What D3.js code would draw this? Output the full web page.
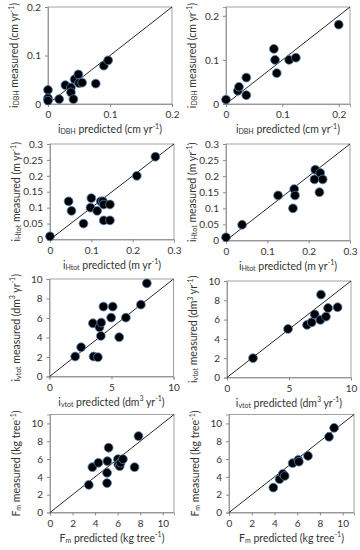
<!DOCTYPE html>
<html>
<head>
<meta charset="utf-8">
<script src="https://cdn.jsdelivr.net/npm/d3@7"></script>
<style>
  body { margin: 0; background: #fff; }
  svg text { font-family: Lato, "Open Sans", sans-serif; fill: #333; }
</style>
</head>
<body>
<div id="chart"></div>
<script>
// predicted / measured pairs, one pair of arrays per panel
const dbhPredA = [0, 0, 0, 0.018, 0.028, 0.037, 0.037, 0.041, 0.043, 0.049, 0.05, 0.055, 0.077, 0.09, 0.097];
const dbhMeasA = [0.029, 0.012, 0.007, 0.01, 0.039, 0.034, 0.024, 0.01, 0.051, 0.061, 0.043, 0.044, 0.042, 0.079, 0.09];
const dbhPredB = [0, 0.021, 0.023, 0.036, 0.036, 0.085, 0.087, 0.09, 0.112, 0.124, 0.2];
const dbhMeasB = [0.01, 0.03, 0.039, 0.06, 0.02, 0.125, 0.1, 0.07, 0.1, 0.105, 0.18];

const hPredA = [0, 0.045, 0.052, 0.081, 0.098, 0.1, 0.114, 0.123, 0.128, 0.13, 0.145, 0.13, 0.145, 0.21, 0.255];
const hMeasA = [0.01, 0.12, 0.09, 0.05, 0.1, 0.13, 0.09, 0.12, 0.12, 0.11, 0.11, 0.06, 0.06, 0.2, 0.26];
const hPredB = [0, 0.039, 0.126, 0.162, 0.165, 0.167, 0.214, 0.216, 0.226, 0.228, 0.234];
const hMeasB = [0.01, 0.049, 0.14, 0.1, 0.16, 0.14, 0.19, 0.22, 0.15, 0.21, 0.19];

const vPredA = [2.07, 2.55, 3.5, 3.55, 3.9, 4.03, 4.14, 4.17, 4.35, 4.97, 5.1, 5.62, 6.16, 7.37, 7.85];
const vMeasA = [2.05, 3.0, 5.46, 2.05, 1.98, 5.05, 4.16, 5.53, 7.17, 6.04, 7.17, 4.03, 6.04, 7.37, 9.56];
const vPredB = [2.1, 4.92, 6.45, 6.83, 7.07, 7.53, 7.58, 7.98, 8.15, 8.92];
const vMeasB = [2.0, 5.03, 5.45, 5.72, 6.55, 5.97, 8.59, 6.31, 7.2, 7.28];

const fPredA = [3.44, 3.76, 4.29, 5.06, 5.06, 5.09, 5.2, 6.03, 6.06, 6.18, 6.26, 6.47, 7.5, 7.85];
const fMeasA = [3.1, 5.09, 5.58, 4.46, 3.3, 5.77, 7.27, 5.99, 5.39, 5.2, 5.58, 5.99, 5.09, 8.58];
const fPredB = [3.9, 4.45, 4.74, 4.9, 5.6, 6.1, 6.15, 6.95, 8.8, 9.25];
const fMeasB = [2.8, 3.74, 4.34, 4.1, 5.55, 5.9, 5.7, 6.35, 8.5, 9.5];

const xTicksDBH = [0, 0.1, 0.2];
const yTicksDBH = [0, 0.1, 0.2];
const xTicksH = [0, 0.1, 0.2, 0.3];
const yTicksH = [0, 0.05, 0.1, 0.15, 0.2, 0.25, 0.3];
const xTicksV = [0, 5, 10];
const yTicksV = [0, 2, 4, 6, 8, 10];
const xTicksF = [0, 2, 4, 6, 8, 10];
const yTicksF = [0, 2, 4, 6, 8, 10];

// axis title pieces: [text, 'sub'|'sup'|'']
function titleParts(kind, word) {
  if (kind == "dbh") return [["i", ""], ["DBH", "sub"], [" " + word + " (cm yr", ""], ["-1", "sup"], [")", ""]];
  if (kind == "h") return [["i", ""], ["Htot", "sub"], [" " + word + " (m yr", ""], ["-1", "sup"], [")", ""]];
  if (kind == "v") return [["i", ""], ["vtot", "sub"], [" " + word + " (dm", ""], ["3", "sup"], [" yr", ""], ["-1", "sup"], [")", ""]];
  return [["F", ""], ["m", "sub"], [" " + word + " (kg tree", ""], ["-1", "sup"], [")", ""]];
}

const panels = [
  {px: dbhPredA, py: dbhMeasA, max: 0.2,  xt: xTicksDBH, yt: yTicksDBH, kind: "dbh", box: [48, 7, 172, 104]},
  {px: dbhPredB, py: dbhMeasB, max: 0.22, xt: xTicksDBH, yt: yTicksDBH, kind: "dbh", box: [226, 7, 350, 104]},
  {px: hPredA, py: hMeasA, max: 0.3, xt: xTicksH, yt: yTicksH, kind: "h", box: [50, 144, 174, 239.5]},
  {px: hPredB, py: hMeasB, max: 0.3, xt: xTicksH, yt: yTicksH, kind: "h", box: [226, 144, 350, 240.5]},
  {px: vPredA, py: vMeasA, max: 10, xt: xTicksV, yt: yTicksV, kind: "v", box: [49.5, 279, 173.5, 376.5]},
  {px: vPredB, py: vMeasB, max: 10, xt: xTicksV, yt: yTicksV, kind: "v", box: [227, 281, 351, 377.5]},
  {px: fPredA, py: fMeasA, max: 11, xt: xTicksF, yt: yTicksF, kind: "f", box: [50, 414.5, 174, 512.5]},
  {px: fPredB, py: fMeasB, max: 11, xt: xTicksF, yt: yTicksF, kind: "f", box: [229, 414.5, 354, 512.5]}
];

const svg = d3.select("#chart").append("svg").attr("width", 360).attr("height", 550);

function addTitle(g, parts, x, y, rotate) {
  const t = g.append("text")
    .attr("x", x).attr("y", y)
    .attr("text-anchor", "middle")
    .style("font-size", "10.5px");
  if (rotate) t.attr("transform", "rotate(-90," + x + "," + y + ")");
  let shift = 0;
  parts.forEach(function(p) {
    const ts = t.append("tspan").text(p[0]);
    const target = p[1] == "sub" ? 1.2 : p[1] == "sup" ? -4.5 : 0;
    if (p[1] != "") ts.style("font-size", "7px");
    ts.attr("dy", target - shift);
    shift = target;
  });
}

panels.forEach(function(p) {
  const [x0, y0, x1, y1] = p.box;
  const x = d3.scaleLinear().domain([0, p.max]).range([x0, x1]);
  const y = d3.scaleLinear().domain([0, p.max]).range([y1, y0]);
  const g = svg.append("g");

  // plot frame
  g.append("rect")
    .attr("x", x0).attr("y", y0).attr("width", x1 - x0).attr("height", y1 - y0)
    .attr("fill", "none").attr("stroke", "#8a8a8a").attr("stroke-width", 0.8);

  const xAxis = g.append("g").attr("transform", "translate(0," + y1 + ")")
    .call(d3.axisBottom(x).tickValues(p.xt).tickSize(3).tickPadding(4).tickFormat(d3.format("")));
  const yAxis = g.append("g").attr("transform", "translate(" + x0 + ",0)")
    .call(d3.axisLeft(y).tickValues(p.yt).tickSize(3).tickPadding(4).tickFormat(d3.format("")));
  [xAxis, yAxis].forEach(function(a) {
    a.select(".domain").attr("stroke", "#8a8a8a").attr("stroke-width", 0.8);
    a.selectAll(".tick line").attr("stroke", "#8a8a8a");
    a.selectAll(".tick text").style("font-size", "10px").attr("fill", "#333")
      .style("font-family", "Lato, 'Open Sans', sans-serif");
  });

  // 1:1 line
  g.append("line")
    .attr("x1", x(0)).attr("y1", y(0)).attr("x2", x(p.max)).attr("y2", y(p.max))
    .attr("stroke", "#111").attr("stroke-width", 0.9);

  g.append("g").selectAll("circle")
    .data(p.px.map((v, i) => [v, p.py[i]]))
    .enter()
    .append("circle")
    .attr("cx", d => x(d[0]))
    .attr("cy", d => y(d[1]))
    .attr("r", 4.4)
    .attr("fill", "#000")
    .attr("stroke", "#4f81bd")
    .attr("stroke-width", 0.8);

  addTitle(g, titleParts(p.kind, "predicted"), (x0 + x1) / 2, y1 + 29, false);
  addTitle(g, titleParts(p.kind, "measured"), x0 - 30, (y0 + y1) / 2, true);
});
</script>
</body>
</html>
